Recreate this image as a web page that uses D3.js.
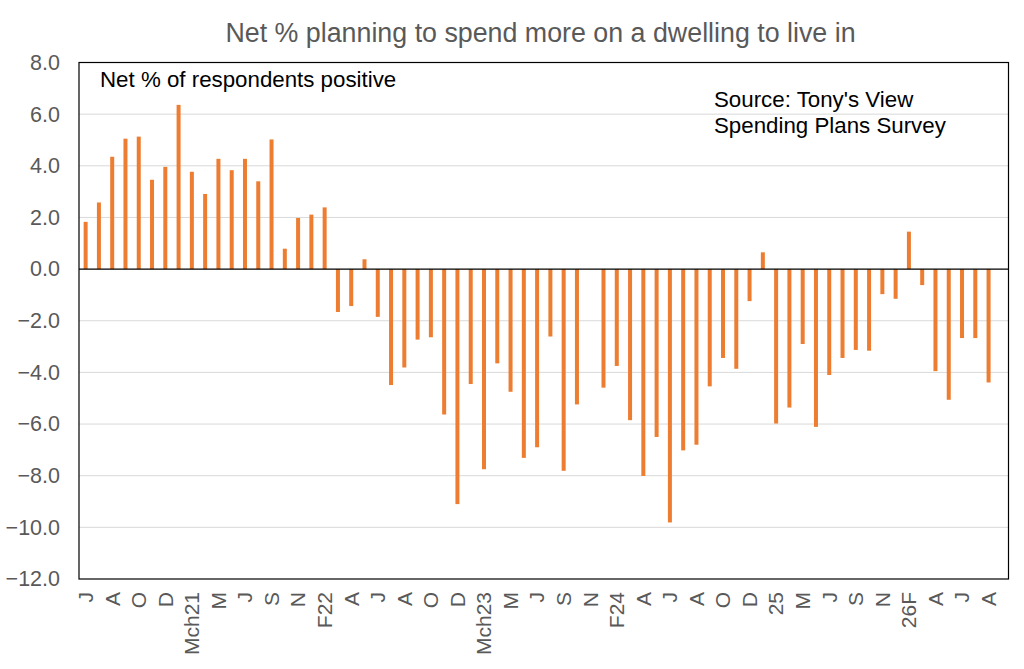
<!DOCTYPE html>
<html><head><meta charset="utf-8">
<script src="https://cdn.jsdelivr.net/npm/d3@7"></script>
<style>body{margin:0;background:#fff}svg{display:block}text{font-family:"Liberation Sans",Arial,sans-serif}</style>
</head><body>
<script>
const title = "Net % planning to spend more on a dwelling to live in";
const tickLabels = ["J","A","O","D","Mch21","M","J","S","N","F22","A","J","A","O","D","Mch23","M","J","S","N","F24","A","J","A","O","D","25","M","J","S","N","26F","A","J","A"];
const values = [1.83,2.58,4.35,5.05,5.13,3.46,3.96,6.36,3.77,2.91,
4.27,3.83,4.27,3.40,5.02,0.79,1.98,2.11,2.39,-1.66,
-1.43,0.38,-1.85,-4.49,-3.81,-2.73,-2.64,-5.63,-9.10,-4.45,
-7.75,-3.65,-4.75,-7.31,-6.90,-2.61,-7.81,-5.24,null,-4.59,
-3.75,-5.85,-8.01,-6.50,-9.81,-7.02,-6.80,-4.54,-3.44,-3.86,
-1.24,0.65,-5.98,-5.36,-2.90,-6.11,-4.10,-3.44,-3.13,-3.16,
-0.97,-1.15,1.45,-0.62,-3.95,-5.06,-2.67,-2.67,-4.39,null];
const yTicks = [8,6,4,2,0,-2,-4,-6,-8,-10,-12];
const noteText = "Net % of respondents positive";
const sourceLines = ["Source: Tony's View","Spending Plans Survey"];

const W=1024,H=669;
const m={l:79,r:1008.5,t:62.5,b:579};
const svg=d3.select("body").append("svg").attr("width",W).attr("height",H);
const x=d3.scaleBand().domain(d3.range(values.length)).range([m.l,m.r]).padding(0);
const y=d3.scaleLinear().domain([-12,8]).range([m.b,m.t]);

// gridlines
svg.append("g").selectAll("line").data(yTicks.filter(v=>v!==0&&v!==8&&v!==-12)).join("line")
 .attr("x1",m.l).attr("x2",m.r).attr("y1",d=>y(d)).attr("y2",d=>y(d))
 .attr("stroke","#d9d9d9").attr("stroke-width",1);

// y axis labels
const ya=svg.append("g").attr("transform",`translate(${m.l},0)`)
 .call(d3.axisLeft(y).tickValues(yTicks).tickFormat(d3.format(".1f")).tickSize(0).tickPadding(19));
ya.select(".domain").remove();
ya.selectAll("text").attr("fill","#595959").style("font-size","21.5px").style("font-family","Liberation Sans, Arial, sans-serif");

// bars
const bw=4;
svg.append("g").selectAll("rect").data(values.map((v,i)=>({v,i})).filter(d=>d.v!==null)).join("rect")
 .attr("x",d=>x(d.i)+x.bandwidth()/2-bw/2).attr("width",bw)
 .attr("y",d=>y(Math.max(0,d.v))).attr("height",d=>Math.abs(y(d.v)-y(0)))
 .attr("fill","#ed7d31");

// zero line
svg.append("line").attr("x1",m.l).attr("x2",m.r).attr("y1",y(0)).attr("y2",y(0)).attr("stroke","#000").attr("stroke-width",1.2);

// x axis labels
const xa=svg.append("g").attr("transform",`translate(0,${m.b})`)
 .call(d3.axisBottom(x).tickValues(d3.range(0,values.length,2).slice(0,tickLabels.length)).tickFormat(i=>tickLabels[i/2]).tickSize(0));
xa.select(".domain").remove();
xa.selectAll("text").attr("fill","#595959").style("font-size","21px").style("font-family","Liberation Sans, Arial, sans-serif")
 .attr("text-anchor","end").attr("transform","rotate(-90)").attr("x",-13).attr("y",0).attr("dy","0.35em");

// plot border
svg.append("rect").attr("x",m.l).attr("y",m.t).attr("width",m.r-m.l).attr("height",m.b-m.t)
 .attr("fill","none").attr("stroke","#000").attr("stroke-width",1.2);

// title
svg.append("text").attr("x",540.5).attr("y",42).attr("text-anchor","middle").attr("fill","#595959")
 .style("font-size","26.8px").text(title);
svg.append("text").attr("x",100).attr("y",87).attr("fill","#000").style("font-size","22.3px").text(noteText);
svg.selectAll("text.src").data(sourceLines).join("text").attr("class","src")
 .attr("x",714).attr("y",(d,i)=>107+i*26).attr("fill","#000").style("font-size","22.3px").text(d=>d);
</script>
</body></html>
